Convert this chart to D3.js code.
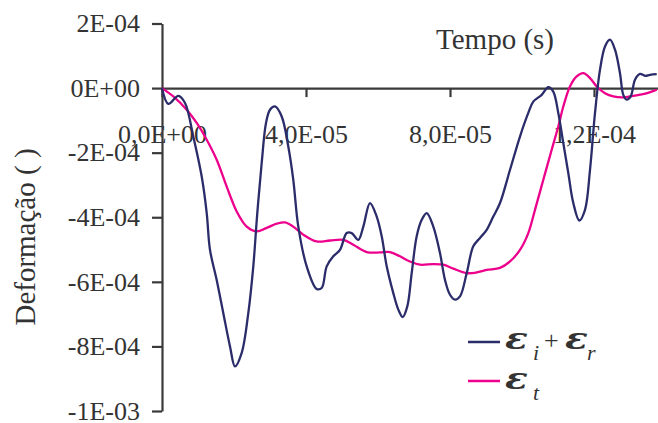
<!DOCTYPE html>
<html>
<head>
<meta charset="utf-8">
<script src="https://cdn.jsdelivr.net/npm/d3@7"></script>
<style>
  html, body { margin: 0; padding: 0; background: #fff; }
  svg { display: block; }
</style>
</head>
<body>
<div id="main-container"></div>
<script>
// Data (time in microseconds, strain in units of 1E-04)
const TIME_SUM_US = [0, 1.75, 4.53, 6.39, 8.69, 11.03, 12.42, 13.33, 15.19, 17.03, 18.89, 20.28, 22.14, 23.97,
  25.36, 26.47, 27.69, 28.89, 30.0, 31.39, 33.25, 35.08, 36.47, 37.86, 40.19, 42.97, 44.36, 45.75, 47.58,
  49.44, 51.31, 52.69, 54.53, 55.92, 57.78, 59.64, 61.03, 62.42, 64.25, 65.64, 66.86, 68.14, 69.36, 70.75,
  72.14, 73.53, 75.36, 77.22, 78.61, 80.0, 81.39, 82.78, 84.64, 86.47, 88.33, 90.19, 92.03, 93.89, 96.67,
  99.44, 101.75, 103.14, 105.47, 107.31, 108.69, 110.08, 111.47, 112.86, 114.25, 115.92, 117.5, 118.89,
  120.28, 121.67, 123.06, 124.44, 125.83, 127.22, 128.14, 129.08, 130.19, 131.39, 132.78, 134.17, 135.56, 137.42];
const STRAIN_SUM_E4 = [0, -0.49, -0.24, -0.46, -1.5, -2.74, -3.87, -5.01, -5.94, -6.97, -8.0, -8.62, -8.2, -6.97,
  -5.52, -3.87, -2.32, -1.08, -0.67, -0.57, -0.88, -1.81, -2.84, -4.29, -5.52, -6.22, -6.19, -5.52, -5.21,
  -5.01, -4.49, -4.49, -4.7, -4.29, -3.56, -3.98, -4.59, -5.52, -6.35, -6.86, -7.09, -6.76, -5.73, -4.59,
  -4.08, -3.87, -4.29, -5.11, -5.94, -6.4, -6.55, -6.45, -5.73, -4.9, -4.64, -4.39, -3.98, -3.56, -2.53,
  -1.5, -0.77, -0.42, -0.21, 0.03, -0.11, -0.77, -1.7, -2.63, -3.56, -4.1, -3.77, -2.53,
  -0.77, 0.57, 1.29, 1.5, 1.19, 0.46, -0.21, -0.36, -0.26, 0.26, 0.44, 0.38, 0.41, 0.43];

const TIME_T_US = [0, 3.14, 6.86, 9.64, 12.42, 15.19, 17.97, 20.75, 23.53, 26.31, 29.08, 31.86, 34.17, 36.47,
  39.25, 42.97, 46.67, 50.36, 53.14, 56.86, 60.56, 63.33, 66.11, 68.89, 71.67, 75.36, 78.14, 80.92, 84.64,
  87.42, 90.19, 93.89, 96.67, 99.44, 101.75, 103.61, 105.92, 108.25, 110.08, 111.47, 113.33, 115.19, 117.03,
  118.89, 120.75, 123.06, 125.36, 128.14, 130.92, 133.61, 135.97, 137.42];
const STRAIN_T_E4 = [0, -0.26, -0.67, -1.08, -1.6, -2.22, -3.05, -3.82, -4.29, -4.44, -4.33, -4.2, -4.16, -4.29,
  -4.54, -4.75, -4.72, -4.7, -4.85, -5.08, -5.09, -5.08, -5.21, -5.37, -5.47, -5.45, -5.47, -5.59, -5.73,
  -5.71, -5.63, -5.57, -5.37, -5.01, -4.49, -3.77, -2.84, -1.91, -1.19, -0.57, 0.05, 0.36, 0.46,
  0.31, 0.05, -0.16, -0.26, -0.29, -0.24, -0.19, -0.11, -0.05];

const X_TICKS = [0, 4e-5, 8e-5, 1.2e-4];
const Y_TICKS = [2e-4, 0, -2e-4, -4e-4, -6e-4, -8e-4, -1e-3];

const SVG_WIDTH = 658;
const SVG_HEIGHT = 423;
const FONT = "'Liberation Serif', 'Times New Roman', serif";
const AXIS_COLOR = '#3a3a3a';
const TEXT_COLOR = '#333';
const NAVY = '#2b2c6a';
const PINK = '#ec008c';

const SUM_DATA = TIME_SUM_US.map((t, i) => ({ t: t * 1e-6, v: STRAIN_SUM_E4[i] * 1e-4 }));
const T_DATA = TIME_T_US.map((t, i) => ({ t: t * 1e-6, v: STRAIN_T_E4[i] * 1e-4 }));

const SVG = d3.select('#main-container').append('svg')
  .attr('width', SVG_WIDTH)
  .attr('height', SVG_HEIGHT)
  .style('font-family', FONT);

// Scales
const X_SCALE = d3.scaleLinear().domain([0, 1.4e-4]).range([162, 666]);
const Y_SCALE = d3.scaleLinear().domain([-1e-3, 2e-4]).range([411, 23.5]);

// Format like "4,0E-05" / "2E-04"
const sci = (d, digits) => {
  const [m, e] = d.toExponential(digits).split('e');
  const exp = Math.abs(+e).toString().padStart(2, '0');
  return `${m.replace('.', ',')}E${+e < 0 ? '-' : '+'}${exp}`;
};

// Axes
const X_AXIS = d3.axisBottom(X_SCALE)
  .tickValues(X_TICKS)
  .tickSize(9)
  .tickSizeOuter(0)
  .tickFormat(d => sci(d, 1));
const xAxisG = SVG.append('g')
  .attr('transform', `translate(0, ${Y_SCALE(0)})`)
  .call(X_AXIS);
xAxisG.selectAll('text')
  .attr('y', 55)
  .attr('dy', null)
  .style('font-size', '26px')
  .style('fill', TEXT_COLOR)
  .style('font-family', FONT);

const Y_AXIS = d3.axisLeft(Y_SCALE)
  .tickValues(Y_TICKS)
  .tickSize(10)
  .tickPadding(12)
  .tickSizeOuter(0)
  .tickFormat(d => sci(d, 0));
const yAxisG = SVG.append('g')
  .attr('transform', `translate(${X_SCALE(0)}, 0)`)
  .call(Y_AXIS);
yAxisG.selectAll('text')
  .style('font-size', '26px')
  .style('fill', TEXT_COLOR)
  .style('font-family', FONT);

SVG.selectAll('.domain, .tick line')
  .attr('stroke', AXIS_COLOR)
  .attr('stroke-width', 2.2);

// Axis titles
SVG.append('text')
  .attr('x', 495)
  .attr('y', 49)
  .attr('text-anchor', 'middle')
  .style('font-size', '29px')
  .style('fill', TEXT_COLOR)
  .text('Tempo (s)');

SVG.append('text')
  .attr('transform', 'translate(35, 237) rotate(-90)')
  .attr('text-anchor', 'middle')
  .style('font-size', '29px')
  .style('fill', TEXT_COLOR)
  .text('Deformação ( )');

// Lines
const line = d3.line()
  .x(d => X_SCALE(d.t))
  .y(d => Y_SCALE(d.v))
  .curve(d3.curveCatmullRom);

SVG.append('path')
  .datum(T_DATA)
  .attr('fill', 'none')
  .attr('stroke', PINK)
  .attr('stroke-width', 2.3)
  .attr('d', line);

SVG.append('path')
  .datum(SUM_DATA)
  .attr('fill', 'none')
  .attr('stroke', NAVY)
  .attr('stroke-width', 2.3)
  .attr('d', line);

// Legend
const LEGEND = SVG.append('g').style('fill', TEXT_COLOR);

[[NAVY, 342], [PINK, 381]].forEach(([c, y]) => {
  LEGEND.append('line')
    .attr('x1', 468).attr('x2', 500)
    .attr('y1', y).attr('y2', y)
    .attr('stroke', c)
    .attr('stroke-width', 2.5);
});

// wide, heavy epsilon like the Symbol font one
const eps = (x, y) => LEGEND.append('text')
  .attr('transform', `translate(${x}, ${y}) scale(1.25, 1)`)
  .style('font-family', "'DejaVu Serif', serif")
  .style('font-style', 'italic')
  .style('font-weight', 'bold')
  .style('font-size', '30px')
  .text('ε');
const sub = (x, y, s) => LEGEND.append('text')
  .attr('x', x).attr('y', y)
  .style('font-style', 'italic')
  .style('font-size', '22px')
  .text(s);

eps(505, 349);
sub(533, 360, 'i');
LEGEND.append('text').attr('x', 544).attr('y', 349).style('font-size', '26px').text('+');
eps(565, 349);
sub(587, 360, 'r');
eps(505, 389);
sub(533, 400, 't');
</script>
</body>
</html>
